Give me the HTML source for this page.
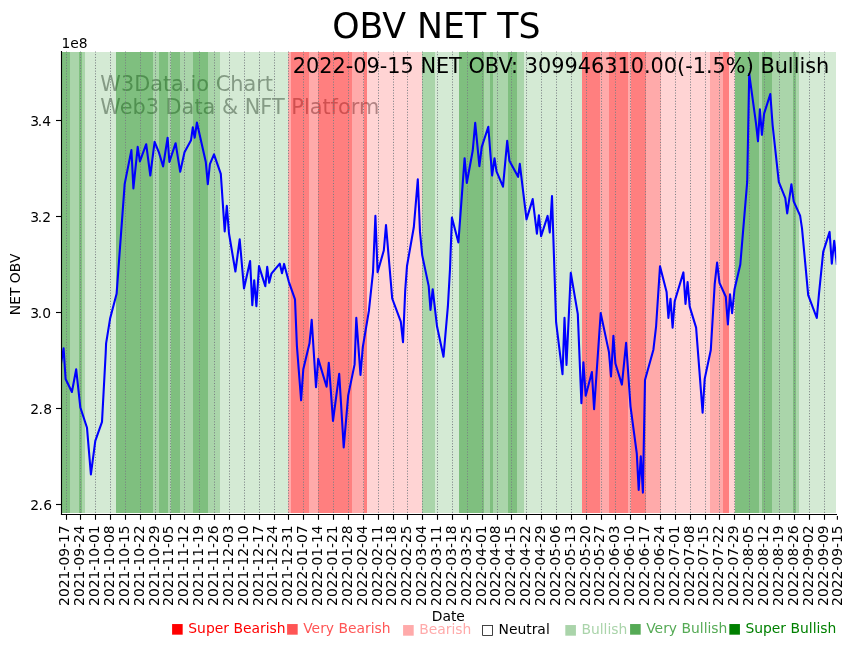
<!DOCTYPE html>
<html lang="en"><head><meta charset="utf-8"><title>OBV NET TS</title>
<style>html,body{margin:0;padding:0;background:#fff}body{width:855px;height:646px;overflow:hidden}svg{display:block}</style>
</head><body>
<svg width="855" height="646" viewBox="0 0 855 646" font-family="'DejaVu Sans', 'Liberation Sans', sans-serif">
<rect width="855" height="646" fill="#fff"/>
<g font-size="20.83px" fill="#808080" fill-opacity="0.75"><text x="100.3" y="90.9">W3Data.io Chart</text><text x="100.3" y="114.1">Web3 Data &amp; NFT Platform</text></g>
<g shape-rendering="crispEdges">
<rect x="61.5" y="51.6" width="8.35" height="461.2" fill="#008000" fill-opacity="0.5"/>
<rect x="69.8" y="51.6" width="9.45" height="461.2" fill="#008000" fill-opacity="0.3333"/>
<rect x="79.2" y="51.6" width="2.55" height="461.2" fill="#008000" fill-opacity="0.5"/>
<rect x="81.7" y="51.6" width="3.25" height="461.2" fill="#008000" fill-opacity="0.3333"/>
<rect x="84.9" y="51.6" width="31.15" height="461.2" fill="#008000" fill-opacity="0.1667"/>
<rect x="116.0" y="51.6" width="36.75" height="461.2" fill="#008000" fill-opacity="0.5"/>
<rect x="152.7" y="51.6" width="6.45" height="461.2" fill="#008000" fill-opacity="0.3333"/>
<rect x="159.1" y="51.6" width="8.95" height="461.2" fill="#008000" fill-opacity="0.5"/>
<rect x="168.0" y="51.6" width="2.75" height="461.2" fill="#008000" fill-opacity="0.3333"/>
<rect x="170.7" y="51.6" width="9.15" height="461.2" fill="#008000" fill-opacity="0.5"/>
<rect x="179.8" y="51.6" width="13.05" height="461.2" fill="#008000" fill-opacity="0.3333"/>
<rect x="192.8" y="51.6" width="15.15" height="461.2" fill="#008000" fill-opacity="0.5"/>
<rect x="207.9" y="51.6" width="12.15" height="461.2" fill="#008000" fill-opacity="0.3333"/>
<rect x="220.0" y="51.6" width="68.15" height="461.2" fill="#008000" fill-opacity="0.1667"/>
<rect x="288.1" y="51.6" width="2.95" height="461.2" fill="#ff0000" fill-opacity="0.3333"/>
<rect x="291.0" y="51.6" width="18.05" height="461.2" fill="#ff0000" fill-opacity="0.5"/>
<rect x="309.0" y="51.6" width="8.85" height="461.2" fill="#ff0000" fill-opacity="0.3333"/>
<rect x="317.8" y="51.6" width="33.95" height="461.2" fill="#ff0000" fill-opacity="0.5"/>
<rect x="351.7" y="51.6" width="12.25" height="461.2" fill="#ff0000" fill-opacity="0.3333"/>
<rect x="363.9" y="51.6" width="2.95" height="461.2" fill="#ff0000" fill-opacity="0.5"/>
<rect x="366.8" y="51.6" width="55.35" height="461.2" fill="#ff0000" fill-opacity="0.1667"/>
<rect x="422.1" y="51.6" width="12.85" height="461.2" fill="#008000" fill-opacity="0.3333"/>
<rect x="434.9" y="51.6" width="24.25" height="461.2" fill="#008000" fill-opacity="0.1667"/>
<rect x="459.1" y="51.6" width="24.85" height="461.2" fill="#008000" fill-opacity="0.5"/>
<rect x="483.9" y="51.6" width="6.25" height="461.2" fill="#008000" fill-opacity="0.3333"/>
<rect x="490.1" y="51.6" width="2.95" height="461.2" fill="#008000" fill-opacity="0.5"/>
<rect x="493.0" y="51.6" width="14.85" height="461.2" fill="#008000" fill-opacity="0.3333"/>
<rect x="507.8" y="51.6" width="9.35" height="461.2" fill="#008000" fill-opacity="0.5"/>
<rect x="517.1" y="51.6" width="6.85" height="461.2" fill="#008000" fill-opacity="0.3333"/>
<rect x="523.9" y="51.6" width="58.15" height="461.2" fill="#008000" fill-opacity="0.1667"/>
<rect x="582.0" y="51.6" width="18.05" height="461.2" fill="#ff0000" fill-opacity="0.5"/>
<rect x="600.0" y="51.6" width="8.95" height="461.2" fill="#ff0000" fill-opacity="0.3333"/>
<rect x="608.9" y="51.6" width="19.05" height="461.2" fill="#ff0000" fill-opacity="0.5"/>
<rect x="627.9" y="51.6" width="2.85" height="461.2" fill="#ff0000" fill-opacity="0.3333"/>
<rect x="630.7" y="51.6" width="15.25" height="461.2" fill="#ff0000" fill-opacity="0.5"/>
<rect x="645.9" y="51.6" width="15.45" height="461.2" fill="#ff0000" fill-opacity="0.3333"/>
<rect x="661.3" y="51.6" width="48.75" height="461.2" fill="#ff0000" fill-opacity="0.1667"/>
<rect x="710.0" y="51.6" width="13.05" height="461.2" fill="#ff0000" fill-opacity="0.3333"/>
<rect x="723.0" y="51.6" width="6.05" height="461.2" fill="#ff0000" fill-opacity="0.5"/>
<rect x="729.0" y="51.6" width="5.85" height="461.2" fill="#ff0000" fill-opacity="0.1667"/>
<rect x="734.8" y="51.6" width="24.25" height="461.2" fill="#008000" fill-opacity="0.5"/>
<rect x="759.0" y="51.6" width="3.05" height="461.2" fill="#008000" fill-opacity="0.3333"/>
<rect x="762.0" y="51.6" width="10.05" height="461.2" fill="#008000" fill-opacity="0.5"/>
<rect x="772.0" y="51.6" width="20.95" height="461.2" fill="#008000" fill-opacity="0.3333"/>
<rect x="792.9" y="51.6" width="3.25" height="461.2" fill="#008000" fill-opacity="0.5"/>
<rect x="796.1" y="51.6" width="2.95" height="461.2" fill="#008000" fill-opacity="0.3333"/>
<rect x="799.0" y="51.6" width="37.15" height="461.2" fill="#008000" fill-opacity="0.1667"/>
</g>
<g stroke="#787d82" stroke-opacity="1" stroke-width="1.0" stroke-dasharray="1.03 1.71" fill="none">
<path d="M66.5 512.8V51.6"/>
<path d="M80.5 512.8V51.6"/>
<path d="M95.5 512.8V51.6"/>
<path d="M110.5 512.8V51.6"/>
<path d="M125.5 512.8V51.6"/>
<path d="M140.5 512.8V51.6"/>
<path d="M155.5 512.8V51.6"/>
<path d="M170.5 512.8V51.6"/>
<path d="M184.5 512.8V51.6"/>
<path d="M199.5 512.8V51.6"/>
<path d="M214.5 512.8V51.6"/>
<path d="M229.5 512.8V51.6"/>
<path d="M244.5 512.8V51.6"/>
<path d="M259.5 512.8V51.6"/>
<path d="M274.5 512.8V51.6"/>
<path d="M288.5 512.8V51.6"/>
<path d="M303.5 512.8V51.6"/>
<path d="M318.5 512.8V51.6"/>
<path d="M333.5 512.8V51.6"/>
<path d="M348.5 512.8V51.6"/>
<path d="M363.5 512.8V51.6"/>
<path d="M378.5 512.8V51.6"/>
<path d="M393.5 512.8V51.6"/>
<path d="M407.5 512.8V51.6"/>
<path d="M422.5 512.8V51.6"/>
<path d="M437.5 512.8V51.6"/>
<path d="M452.5 512.8V51.6"/>
<path d="M467.5 512.8V51.6"/>
<path d="M482.5 512.8V51.6"/>
<path d="M497.5 512.8V51.6"/>
<path d="M511.5 512.8V51.6"/>
<path d="M526.5 512.8V51.6"/>
<path d="M541.5 512.8V51.6"/>
<path d="M556.5 512.8V51.6"/>
<path d="M571.5 512.8V51.6"/>
<path d="M586.5 512.8V51.6"/>
<path d="M601.5 512.8V51.6"/>
<path d="M615.5 512.8V51.6"/>
<path d="M630.5 512.8V51.6"/>
<path d="M645.5 512.8V51.6"/>
<path d="M660.5 512.8V51.6"/>
<path d="M675.5 512.8V51.6"/>
<path d="M690.5 512.8V51.6"/>
<path d="M705.5 512.8V51.6"/>
<path d="M719.5 512.8V51.6"/>
<path d="M734.5 512.8V51.6"/>
<path d="M749.5 512.8V51.6"/>
<path d="M764.5 512.8V51.6"/>
<path d="M779.5 512.8V51.6"/>
<path d="M794.5 512.8V51.6"/>
<path d="M809.5 512.8V51.6"/>
<path d="M824.5 512.8V51.6"/>
</g>
<clipPath id="c"><rect x="61.5" y="51.6" width="774.7" height="462.19999999999993"/></clipPath>
<path d="M61.0 363.8 L63.6 348.2 L65.6 379.0 L71.9 392.0 L76.2 369.3 L80.3 407.2 L87.0 427.8 L90.9 474.4 L95.3 440.8 L102.0 421.9 L105.7 353.0 L106.1 343.4 L110.1 318.6 L116.6 293.8 L124.7 183.9 L131.4 150.1 L133.4 188.5 L137.7 146.8 L139.9 161.4 L146.2 144.2 L150.3 175.5 L154.6 141.9 L159.0 152.7 L163.1 166.4 L167.6 137.7 L169.4 162.0 L175.6 143.2 L180.2 171.8 L184.5 152.3 L191.0 140.3 L192.8 127.3 L194.7 137.7 L196.9 122.6 L205.8 162.0 L207.8 184.1 L209.9 164.2 L214.0 154.4 L220.8 173.9 L224.7 231.4 L226.8 205.8 L229.0 233.5 L235.4 271.5 L239.7 239.4 L244.0 288.4 L250.1 261.1 L252.3 305.1 L254.2 280.2 L256.4 306.2 L259.0 266.1 L265.3 286.3 L267.2 266.8 L269.2 282.8 L271.4 273.7 L279.8 263.7 L282.0 273.3 L284.1 263.9 L288.7 281.3 L295.0 299.3 L296.9 345.8 L301.1 400.3 L303.3 369.3 L309.5 343.3 L311.7 319.8 L316.0 387.2 L318.2 358.9 L326.6 386.7 L328.8 362.7 L333.0 420.9 L339.2 373.8 L343.7 447.4 L348.2 395.4 L354.6 364.4 L356.3 317.8 L360.5 375.0 L362.8 347.1 L368.9 310.9 L373.0 272.2 L375.4 215.8 L377.6 272.2 L383.8 250.5 L386.0 225.1 L392.2 298.5 L400.8 321.7 L403.0 342.1 L405.2 290.7 L407.0 266.0 L413.8 227.3 L417.8 179.3 L420.0 231.9 L422.2 255.1 L428.7 286.1 L430.5 309.9 L432.7 289.2 L437.0 326.3 L443.5 356.7 L447.9 306.2 L450.0 269.1 L451.9 217.6 L458.4 242.4 L464.6 158.2 L466.8 183.0 L472.7 150.8 L475.2 122.8 L479.4 166.1 L481.7 147.1 L488.3 126.7 L492.1 175.5 L494.5 158.2 L496.5 171.3 L503.0 186.7 L507.2 140.9 L509.4 160.7 L518.1 176.8 L519.8 163.9 L526.5 219.4 L532.7 199.1 L536.9 233.7 L538.9 215.2 L541.1 236.2 L547.6 215.9 L549.8 232.5 L552.0 196.1 L556.1 322.2 L562.5 374.1 L564.5 317.8 L566.5 364.9 L570.8 272.9 L577.8 314.1 L581.4 403.3 L583.4 362.4 L585.7 395.7 L591.9 372.1 L594.1 409.3 L600.7 313.1 L609.0 352.4 L611.0 376.5 L613.4 335.9 L615.4 363.5 L621.9 384.6 L626.1 342.9 L630.5 406.3 L636.8 453.7 L638.7 490.0 L640.8 456.3 L642.9 492.6 L645.0 380.0 L653.4 349.7 L656.1 326.3 L660.0 266.3 L666.6 292.1 L668.4 317.9 L670.5 298.7 L672.6 327.6 L674.7 301.3 L683.4 272.4 L685.5 303.9 L687.6 282.1 L689.7 306.6 L696.1 327.6 L702.6 412.6 L704.7 378.9 L710.8 350.0 L714.7 284.2 L717.1 262.6 L719.5 282.9 L725.8 296.8 L727.9 324.5 L730.0 294.2 L732.1 313.2 L734.5 289.5 L740.3 264.5 L747.2 181.9 L749.2 73.7 L756.0 123.4 L758.0 141.3 L759.9 109.4 L761.9 134.8 L764.1 113.6 L770.3 94.1 L772.6 125.0 L778.8 181.9 L785.3 198.2 L787.2 213.4 L791.4 184.2 L793.7 201.4 L800.1 215.7 L802.0 228.3 L808.2 295.1 L816.8 318.0 L819.0 293.7 L823.2 251.9 L829.6 231.9 L831.8 263.7 L834.2 240.8 L836.9 265.0" fill="none" stroke="#0000ff" stroke-width="2.08" stroke-linejoin="round" stroke-linecap="butt" clip-path="url(#c)"/>
<g stroke="#000" stroke-width="1.11" fill="none">
<path d="M61.5 51V514.9"/>
<path d="M60.95 514.45H837" stroke-width="1.05"/>
<path d="M66.5 514.3V519.8"/>
<path d="M80.5 514.3V519.8"/>
<path d="M95.5 514.3V519.8"/>
<path d="M110.5 514.3V519.8"/>
<path d="M125.5 514.3V519.8"/>
<path d="M140.5 514.3V519.8"/>
<path d="M155.5 514.3V519.8"/>
<path d="M170.5 514.3V519.8"/>
<path d="M184.5 514.3V519.8"/>
<path d="M199.5 514.3V519.8"/>
<path d="M214.5 514.3V519.8"/>
<path d="M229.5 514.3V519.8"/>
<path d="M244.5 514.3V519.8"/>
<path d="M259.5 514.3V519.8"/>
<path d="M274.5 514.3V519.8"/>
<path d="M288.5 514.3V519.8"/>
<path d="M303.5 514.3V519.8"/>
<path d="M318.5 514.3V519.8"/>
<path d="M333.5 514.3V519.8"/>
<path d="M348.5 514.3V519.8"/>
<path d="M363.5 514.3V519.8"/>
<path d="M378.5 514.3V519.8"/>
<path d="M393.5 514.3V519.8"/>
<path d="M407.5 514.3V519.8"/>
<path d="M422.5 514.3V519.8"/>
<path d="M437.5 514.3V519.8"/>
<path d="M452.5 514.3V519.8"/>
<path d="M467.5 514.3V519.8"/>
<path d="M482.5 514.3V519.8"/>
<path d="M497.5 514.3V519.8"/>
<path d="M511.5 514.3V519.8"/>
<path d="M526.5 514.3V519.8"/>
<path d="M541.5 514.3V519.8"/>
<path d="M556.5 514.3V519.8"/>
<path d="M571.5 514.3V519.8"/>
<path d="M586.5 514.3V519.8"/>
<path d="M601.5 514.3V519.8"/>
<path d="M615.5 514.3V519.8"/>
<path d="M630.5 514.3V519.8"/>
<path d="M645.5 514.3V519.8"/>
<path d="M660.5 514.3V519.8"/>
<path d="M675.5 514.3V519.8"/>
<path d="M690.5 514.3V519.8"/>
<path d="M705.5 514.3V519.8"/>
<path d="M719.5 514.3V519.8"/>
<path d="M734.5 514.3V519.8"/>
<path d="M749.5 514.3V519.8"/>
<path d="M764.5 514.3V519.8"/>
<path d="M779.5 514.3V519.8"/>
<path d="M794.5 514.3V519.8"/>
<path d="M809.5 514.3V519.8"/>
<path d="M824.5 514.3V519.8"/>
<path d="M837.4 516V519.8"/>
<path d="M56 504.5H61.5"/>
<path d="M56 408.5H61.5"/>
<path d="M56 312.5H61.5"/>
<path d="M56 216.5H61.5"/>
<path d="M56 120.5H61.5"/>
</g>
<g font-size="13.89px" fill="#000">
<text x="30.2 38.6 43.2" y="509.6">2.6</text>
<text x="30.2 38.6 43.2" y="413.6">2.8</text>
<text x="30.2 37.7 42.3" y="317.6">3.0</text>
<text x="30.2 37.7 42.3" y="221.6">3.2</text>
<text x="30.2 37.7 42.3" y="125.6">3.4</text>
<text transform="translate(69.3 525.3) rotate(-90)" text-anchor="end">2021-09-17</text>
<text transform="translate(84.2 525.3) rotate(-90)" text-anchor="end">2021-09-24</text>
<text transform="translate(99.1 525.3) rotate(-90)" text-anchor="end">2021-10-01</text>
<text transform="translate(113.9 525.3) rotate(-90)" text-anchor="end">2021-10-08</text>
<text transform="translate(128.8 525.3) rotate(-90)" text-anchor="end">2021-10-15</text>
<text transform="translate(143.7 525.3) rotate(-90)" text-anchor="end">2021-10-22</text>
<text transform="translate(158.5 525.3) rotate(-90)" text-anchor="end">2021-10-29</text>
<text transform="translate(173.4 525.3) rotate(-90)" text-anchor="end">2021-11-05</text>
<text transform="translate(188.2 525.3) rotate(-90)" text-anchor="end">2021-11-12</text>
<text transform="translate(203.1 525.3) rotate(-90)" text-anchor="end">2021-11-19</text>
<text transform="translate(218.0 525.3) rotate(-90)" text-anchor="end">2021-11-26</text>
<text transform="translate(232.8 525.3) rotate(-90)" text-anchor="end">2021-12-03</text>
<text transform="translate(247.7 525.3) rotate(-90)" text-anchor="end">2021-12-10</text>
<text transform="translate(262.6 525.3) rotate(-90)" text-anchor="end">2021-12-17</text>
<text transform="translate(277.4 525.3) rotate(-90)" text-anchor="end">2021-12-24</text>
<text transform="translate(292.3 525.3) rotate(-90)" text-anchor="end">2021-12-31</text>
<text transform="translate(307.1 525.3) rotate(-90)" text-anchor="end">2022-01-07</text>
<text transform="translate(322.0 525.3) rotate(-90)" text-anchor="end">2022-01-14</text>
<text transform="translate(336.9 525.3) rotate(-90)" text-anchor="end">2022-01-21</text>
<text transform="translate(351.7 525.3) rotate(-90)" text-anchor="end">2022-01-28</text>
<text transform="translate(366.6 525.3) rotate(-90)" text-anchor="end">2022-02-04</text>
<text transform="translate(381.5 525.3) rotate(-90)" text-anchor="end">2022-02-11</text>
<text transform="translate(396.3 525.3) rotate(-90)" text-anchor="end">2022-02-18</text>
<text transform="translate(411.2 525.3) rotate(-90)" text-anchor="end">2022-02-25</text>
<text transform="translate(426.0 525.3) rotate(-90)" text-anchor="end">2022-03-04</text>
<text transform="translate(440.9 525.3) rotate(-90)" text-anchor="end">2022-03-11</text>
<text transform="translate(455.8 525.3) rotate(-90)" text-anchor="end">2022-03-18</text>
<text transform="translate(470.6 525.3) rotate(-90)" text-anchor="end">2022-03-25</text>
<text transform="translate(485.5 525.3) rotate(-90)" text-anchor="end">2022-04-01</text>
<text transform="translate(500.4 525.3) rotate(-90)" text-anchor="end">2022-04-08</text>
<text transform="translate(515.2 525.3) rotate(-90)" text-anchor="end">2022-04-15</text>
<text transform="translate(530.1 525.3) rotate(-90)" text-anchor="end">2022-04-22</text>
<text transform="translate(544.9 525.3) rotate(-90)" text-anchor="end">2022-04-29</text>
<text transform="translate(559.8 525.3) rotate(-90)" text-anchor="end">2022-05-06</text>
<text transform="translate(574.7 525.3) rotate(-90)" text-anchor="end">2022-05-13</text>
<text transform="translate(589.5 525.3) rotate(-90)" text-anchor="end">2022-05-20</text>
<text transform="translate(604.4 525.3) rotate(-90)" text-anchor="end">2022-05-27</text>
<text transform="translate(619.3 525.3) rotate(-90)" text-anchor="end">2022-06-03</text>
<text transform="translate(634.1 525.3) rotate(-90)" text-anchor="end">2022-06-10</text>
<text transform="translate(649.0 525.3) rotate(-90)" text-anchor="end">2022-06-17</text>
<text transform="translate(663.8 525.3) rotate(-90)" text-anchor="end">2022-06-24</text>
<text transform="translate(678.7 525.3) rotate(-90)" text-anchor="end">2022-07-01</text>
<text transform="translate(693.6 525.3) rotate(-90)" text-anchor="end">2022-07-08</text>
<text transform="translate(708.4 525.3) rotate(-90)" text-anchor="end">2022-07-15</text>
<text transform="translate(723.3 525.3) rotate(-90)" text-anchor="end">2022-07-22</text>
<text transform="translate(738.2 525.3) rotate(-90)" text-anchor="end">2022-07-29</text>
<text transform="translate(753.0 525.3) rotate(-90)" text-anchor="end">2022-08-05</text>
<text transform="translate(767.9 525.3) rotate(-90)" text-anchor="end">2022-08-12</text>
<text transform="translate(782.7 525.3) rotate(-90)" text-anchor="end">2022-08-19</text>
<text transform="translate(797.6 525.3) rotate(-90)" text-anchor="end">2022-08-26</text>
<text transform="translate(812.5 525.3) rotate(-90)" text-anchor="end">2022-09-02</text>
<text transform="translate(827.8 525.3) rotate(-90)" text-anchor="end">2022-09-09</text>
<text transform="translate(841.6 525.3) rotate(-90)" text-anchor="end">2022-09-15</text>
<text x="61.5" y="47.8">1e8</text>
<text transform="translate(20.1 284.4) rotate(-90)" text-anchor="middle">NET OBV</text>
<text x="448.3" y="621.2" text-anchor="middle">Date</text>
</g>
<text x="436.3" y="37.9" font-size="34.72px" text-anchor="middle" fill="#000">OBV NET TS</text>
<text x="829.3" y="72.5" font-size="20.83px" text-anchor="end" fill="#000">2022-09-15 NET OBV: 309946310.00(-1.5%) Bullish</text>
<g font-size="13.89px">
<text x="170.8" y="632.8" fill="#ff0000">■ Super Bearish</text>
<text x="285.7" y="632.8" fill="#ff5555">■ Very Bearish</text>
<text x="401.7" y="633.8" fill="#ffaaaa">■ Bearish</text>
<text x="481.0" y="633.8" fill="#000000">□ Neutral</text>
<text x="563.9" y="633.8" fill="#aad4aa">■ Bullish</text>
<text x="628.7" y="632.8" fill="#55aa55">■ Very Bullish</text>
<text x="727.9" y="632.8" fill="#008000">■ Super Bullish</text>
</g>
</svg>
</body></html>
